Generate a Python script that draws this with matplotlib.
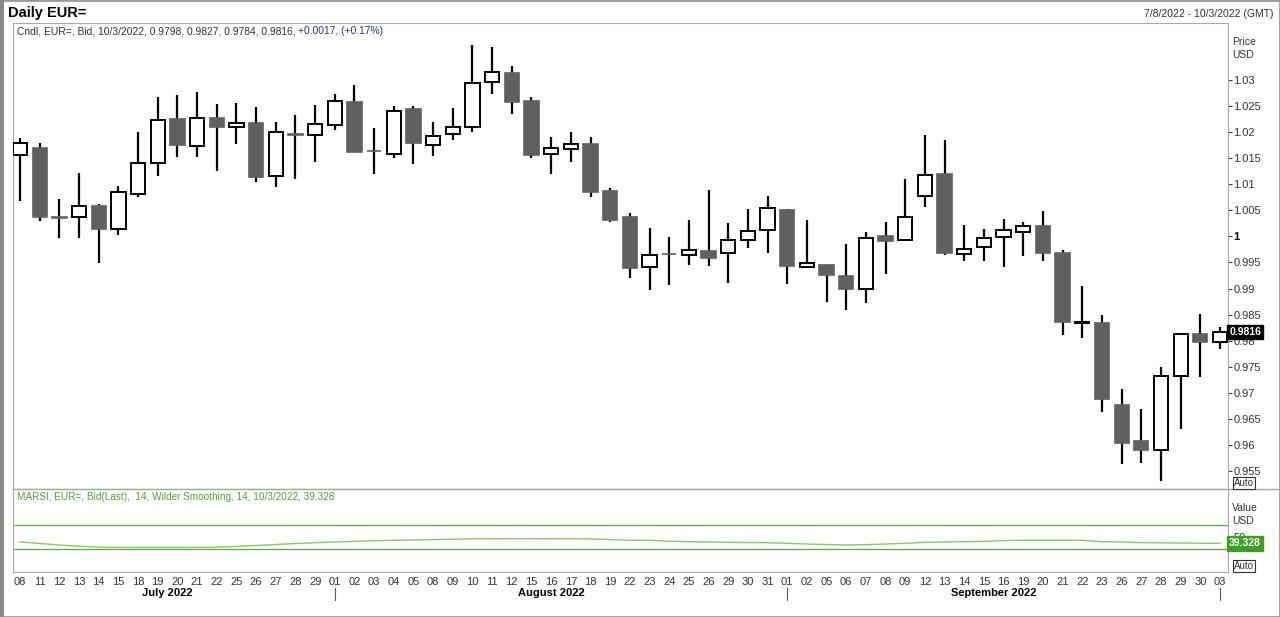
import matplotlib
matplotlib.use("Agg")
import matplotlib.pyplot as plt
import matplotlib.transforms as mtransforms
from matplotlib.lines import Line2D
from matplotlib.patches import Rectangle
import numpy as np

plt.rcParams['font.family'] = ['Liberation Sans', 'DejaVu Sans']

# ---------------- data ----------------
dates = ["08", "11", "12", "13", "14", "15", "18", "19", "20", "21", "22", "25", "26", "27", "28", "29",
         "01", "02", "03", "04", "05", "08", "09", "10", "11", "12", "15", "16", "17", "18", "19", "22",
         "23", "24", "25", "26", "29", "30", "31",
         "01", "02", "05", "06", "07", "08", "09", "12", "13", "14", "15", "16", "19", "20", "21", "22",
         "23", "26", "27", "28", "29", "30",
         "03"]

opens = [1.0157, 1.0170, 1.0037, 1.0037, 1.0058, 1.0015, 1.0081, 1.0140, 1.0225, 1.0174, 1.0227, 1.0209,
         1.0217, 1.0115, 1.0196, 1.0194,
         1.0214, 1.0258, 1.0164, 1.0158, 1.0244, 1.0176, 1.0196, 1.0210, 1.0296, 1.0313, 1.0260, 1.0158,
         1.0167, 1.0177, 1.0087, 1.0037,
         0.9941, 0.9967, 0.9964, 0.9971, 0.9968, 0.9993, 1.0012,
         1.0051, 0.9942, 0.9946, 0.9924, 0.9900, 1.0000, 0.9993, 1.0077, 1.0120, 0.9966, 0.9979, 0.9998,
         1.0008, 1.0019, 0.9969, 0.9834,
         0.9833, 0.9676, 0.9607, 0.9590, 0.9732, 0.9813,
         0.9798]
highs = [1.0189, 1.0180, 1.0072, 1.0121, 1.0062, 1.0097, 1.0200, 1.0267, 1.0272, 1.0277, 1.0254, 1.0256,
         1.0249, 1.0219, 1.0232, 1.0252,
         1.0273, 1.0290, 1.0207, 1.0251, 1.0250, 1.0219, 1.0246, 1.0367, 1.0364, 1.0326, 1.0267, 1.0191,
         1.0200, 1.0191, 1.0093, 1.0045,
         1.0017, 0.9998, 1.0032, 1.0088, 1.0026, 1.0052, 1.0077,
         1.0053, 1.0031, 0.9946, 0.9985, 1.0008, 1.0027, 1.0111, 1.0194, 1.0185, 1.0022, 1.0015, 1.0034,
         1.0027, 1.0049, 0.9973, 0.9905,
         0.9849, 0.9707, 0.9669, 0.9749, 0.9813, 0.9852,
         0.9827]
lows = [1.0068, 1.0030, 0.9996, 0.9996, 0.9948, 1.0003, 1.0075, 1.0116, 1.0152, 1.0152, 1.0126, 1.0177,
        1.0104, 1.0094, 1.0111, 1.0143,
        1.0204, 1.0161, 1.0120, 1.0151, 1.0138, 1.0155, 1.0185, 1.0200, 1.0273, 1.0234, 1.0151, 1.0119,
        1.0142, 1.0076, 1.0028, 0.9921,
        0.9897, 0.9906, 0.9945, 0.9944, 0.9911, 0.9978, 0.9968,
        0.9908, 0.9940, 0.9874, 0.9859, 0.9872, 0.9927, 0.9993, 1.0056, 0.9964, 0.9952, 0.9952, 0.9941,
        0.9963, 0.9952, 0.9810, 0.9805,
        0.9664, 0.9563, 0.9565, 0.9531, 0.9631, 0.9731,
        0.9784]
closes = [1.0180, 1.0037, 1.0036, 1.0059, 1.0015, 1.0085, 1.0140, 1.0223, 1.0175, 1.0227, 1.0209, 1.0218,
          1.0113, 1.0200, 1.0195, 1.0216,
          1.0259, 1.0162, 1.0163, 1.0241, 1.0180, 1.0193, 1.0209, 1.0295, 1.0315, 1.0257, 1.0157, 1.0169,
          1.0178, 1.0086, 1.0032, 0.9939,
          0.9965, 0.9966, 0.9973, 0.9959, 0.9993, 1.0010, 1.0054,
          0.9943, 0.9948, 0.9925, 0.9900, 0.9997, 0.9992, 1.0037, 1.0118, 0.9968, 0.9975, 0.9996, 1.0013,
          1.0020, 0.9969, 0.9835, 0.9835,
          0.9688, 0.9604, 0.9590, 0.9732, 0.9812, 0.9797,
          0.9816]

rsi = [41.7, 39.2, 36.7, 34.5, 33.3, 32.8, 32.6, 32.6, 32.6, 32.8, 33.2, 34.2, 35.8, 37.5, 39.2, 40.5,
       41.7, 42.8, 43.8, 44.5, 45.0, 45.7, 46.3, 47.0, 47.2, 47.2, 47.2, 47.2, 47.0, 46.8, 45.8, 44.5,
       44.5, 43.0, 42.2, 41.7, 41.2, 40.8, 40.5, 39.5, 38.3, 37.5, 36.7, 37.3, 38.3, 39.5, 41.0, 41.7,
       42.2, 42.7, 44.2, 44.5, 44.5, 44.5, 44.5, 42.2, 41.7, 40.5, 40.3, 40.0, 39.7, 39.328]

price_ticks = [1.03, 1.025, 1.02, 1.015, 1.01, 1.005, 1.0, 0.995, 0.99, 0.985, 0.98, 0.975, 0.97,
               0.965, 0.96, 0.955]
months = ["July 2022", "August 2022", "September 2022"]
month_starts = [0, 16, 39]
month_ends = [15, 38, 60]

# ---------------- layout ----------------
W, H = 1280, 617
fig = plt.figure(figsize=(W / 100, H / 100), dpi=100)
fig.patch.set_facecolor("white")


def fx(x):
    return x / W


def fy(y):
    return 1 - y / H


L, R = 13, 1228
ax = fig.add_axes([fx(L), fy(489), fx(R) - fx(L), fy(23) - fy(489)])
ax2 = fig.add_axes([fx(L), fy(572), fx(R) - fx(L), fy(489) - fy(572)])

grid_gray = "#a8a8a8"
text_col = "#333333"
dark = "#606060"

n = len(dates)
idx = np.arange(n)
o = np.array(opens); h = np.array(highs); lo = np.array(lows); c = np.array(closes)
up = c >= o

# wicks
ax.vlines(idx, lo, h, color="black", linewidth=1.6, zorder=2)
# bodies
bw = 0.72
ax.bar(idx[up], (c - o)[up], bottom=o[up], width=bw, facecolor="white", edgecolor="black",
       linewidth=1.4, zorder=3)
ax.bar(idx[~up], (o - c)[~up], bottom=c[~up], width=bw, facecolor=dark, edgecolor=dark,
       linewidth=1.2, zorder=3)

ax.set_xlim(-0.36, n - 1 + 0.41)
ax.set_ylim(0.95154, 1.04093)

for a in (ax, ax2):
    for s in a.spines.values():
        s.set_color(grid_gray)
        s.set_linewidth(0.8)
    a.yaxis.tick_right()
    a.set_facecolor("white")

ax.set_xticks([])
ax.set_yticks(price_ticks)
ax.set_yticklabels([f"{v:g}" for v in price_ticks])
ax.tick_params(axis="y", direction="out", length=3, width=0.8, color=text_col, pad=1,
               labelsize=8, labelcolor=text_col)
for lab, v in zip(ax.get_yticklabels(), price_ticks):
    if v == 1.0:
        lab.set_fontweight("bold")
        lab.set_color("black")

# last price tag
tr = mtransforms.blended_transform_factory(ax.transAxes, ax.transData)
ax.text(1.001, closes[-1], f"{closes[-1]:.4f}", transform=tr, ha="left", va="center",
        fontsize=7.5, fontweight="bold", color="white", zorder=5,
        bbox=dict(boxstyle="square,pad=0.18", facecolor="black", edgecolor="black"))

# header texts
fig.text(fx(8), fy(13), "Daily EUR=", fontsize=10.5, fontweight="bold", color="black",
         ha="left", va="center")
fig.text(fx(1273), fy(14), "7/8/2022 - 10/3/2022 (GMT)", fontsize=7.5, color=text_col,
         ha="right", va="center")
t1 = fig.text(fx(17), fy(31), "Cndl, EUR=, Bid, 10/3/2022, 0.9798, 0.9827, 0.9784, 0.9816, ",
              fontsize=7.35, color=text_col, ha="left", va="center")
fig.canvas.draw()
bb = t1.get_window_extent()
fig.text(bb.x1 / W, fy(31), "+0.0017, (+0.17%)", fontsize=7.35, color="#2b2b9e",
         ha="left", va="center")

fig.text(fx(1232), fy(42), "Price", fontsize=7.5, color=text_col, ha="left", va="center")
fig.text(fx(1232), fy(55), "USD", fontsize=7.5, color=text_col, ha="left", va="center")
fig.text(fx(1234), fy(483), "Auto", fontsize=7, color=text_col, ha="left", va="center",
         bbox=dict(boxstyle="square,pad=0.1", facecolor="white", edgecolor="#333333", linewidth=0.8))

# ---------------- RSI panel ----------------
green_line = "#5da83e"
ax2.plot(idx, rsi, color="#8fc46e", linewidth=1.0, zorder=3)
ax2.axhline(70, color=green_line, linewidth=0.9, zorder=2)
ax2.axhline(30, color=green_line, linewidth=0.9, zorder=2)
ax2.set_xlim(ax.get_xlim())
ax2.set_ylim(-8.3, 130)
ax2.set_yticks([50])
ax2.set_yticklabels(["50"])
ax2.tick_params(axis="y", direction="out", length=3, width=0.8, color=text_col, pad=1,
                labelsize=8, labelcolor=text_col)
ax2.set_xticks(idx)
ax2.set_xticklabels(dates)
ax2.tick_params(axis="x", length=0, pad=3.5, labelsize=8, labelcolor=text_col)

tr2 = mtransforms.blended_transform_factory(ax2.transAxes, ax2.transData)
ax2.text(1.001, rsi[-1], f"{rsi[-1]:.3f}", transform=tr2, ha="left", va="center",
         fontsize=7.5, fontweight="bold", color="white", zorder=5,
         bbox=dict(boxstyle="square,pad=0.22", facecolor="#3f9f25", edgecolor="#3f9f25"))

fig.text(fx(17), fy(497), "MARSI, EUR=, Bid(Last),  14, Wilder Smoothing, 14, 10/3/2022, 39.328",
         fontsize=7.2, color="#5a9e3a", ha="left", va="center")
fig.text(fx(1232), fy(508), "Value", fontsize=7.5, color=text_col, ha="left", va="center")
fig.text(fx(1232), fy(521), "USD", fontsize=7.5, color=text_col, ha="left", va="center")
fig.text(fx(1234), fy(566), "Auto", fontsize=7, color=text_col, ha="left", va="center",
         bbox=dict(boxstyle="square,pad=0.1", facecolor="white", edgecolor="#333333", linewidth=0.8))

# month labels and separators
trm = mtransforms.blended_transform_factory(ax2.transData, fig.transFigure)
for name, s, e in zip(months, month_starts, month_ends):
    ax2.text((s + e) / 2, fy(593), name, transform=trm, ha="center", va="center",
             fontsize=8, fontweight="bold", color="black")
for s in month_starts[1:] + [n - 1]:
    fig.add_artist(Line2D([s, s], [fy(588), fy(600)], transform=trm, color="#555555", linewidth=0.8))

# separators and outer frame
fig.add_artist(Line2D([fx(L), 1], [fy(489), fy(489)], transform=fig.transFigure,
                      color=grid_gray, linewidth=1.0))
fig.add_artist(Rectangle((0, 0), 1, 1, transform=fig.transFigure, fill=False,
                         edgecolor="#9a9a9a", linewidth=2.0))
fig.add_artist(Rectangle((0, 0), fx(4), 1, transform=fig.transFigure, facecolor="#8a8a8a",
                         edgecolor="none"))

fig.savefig("out.png", dpi=100, facecolor="white")
